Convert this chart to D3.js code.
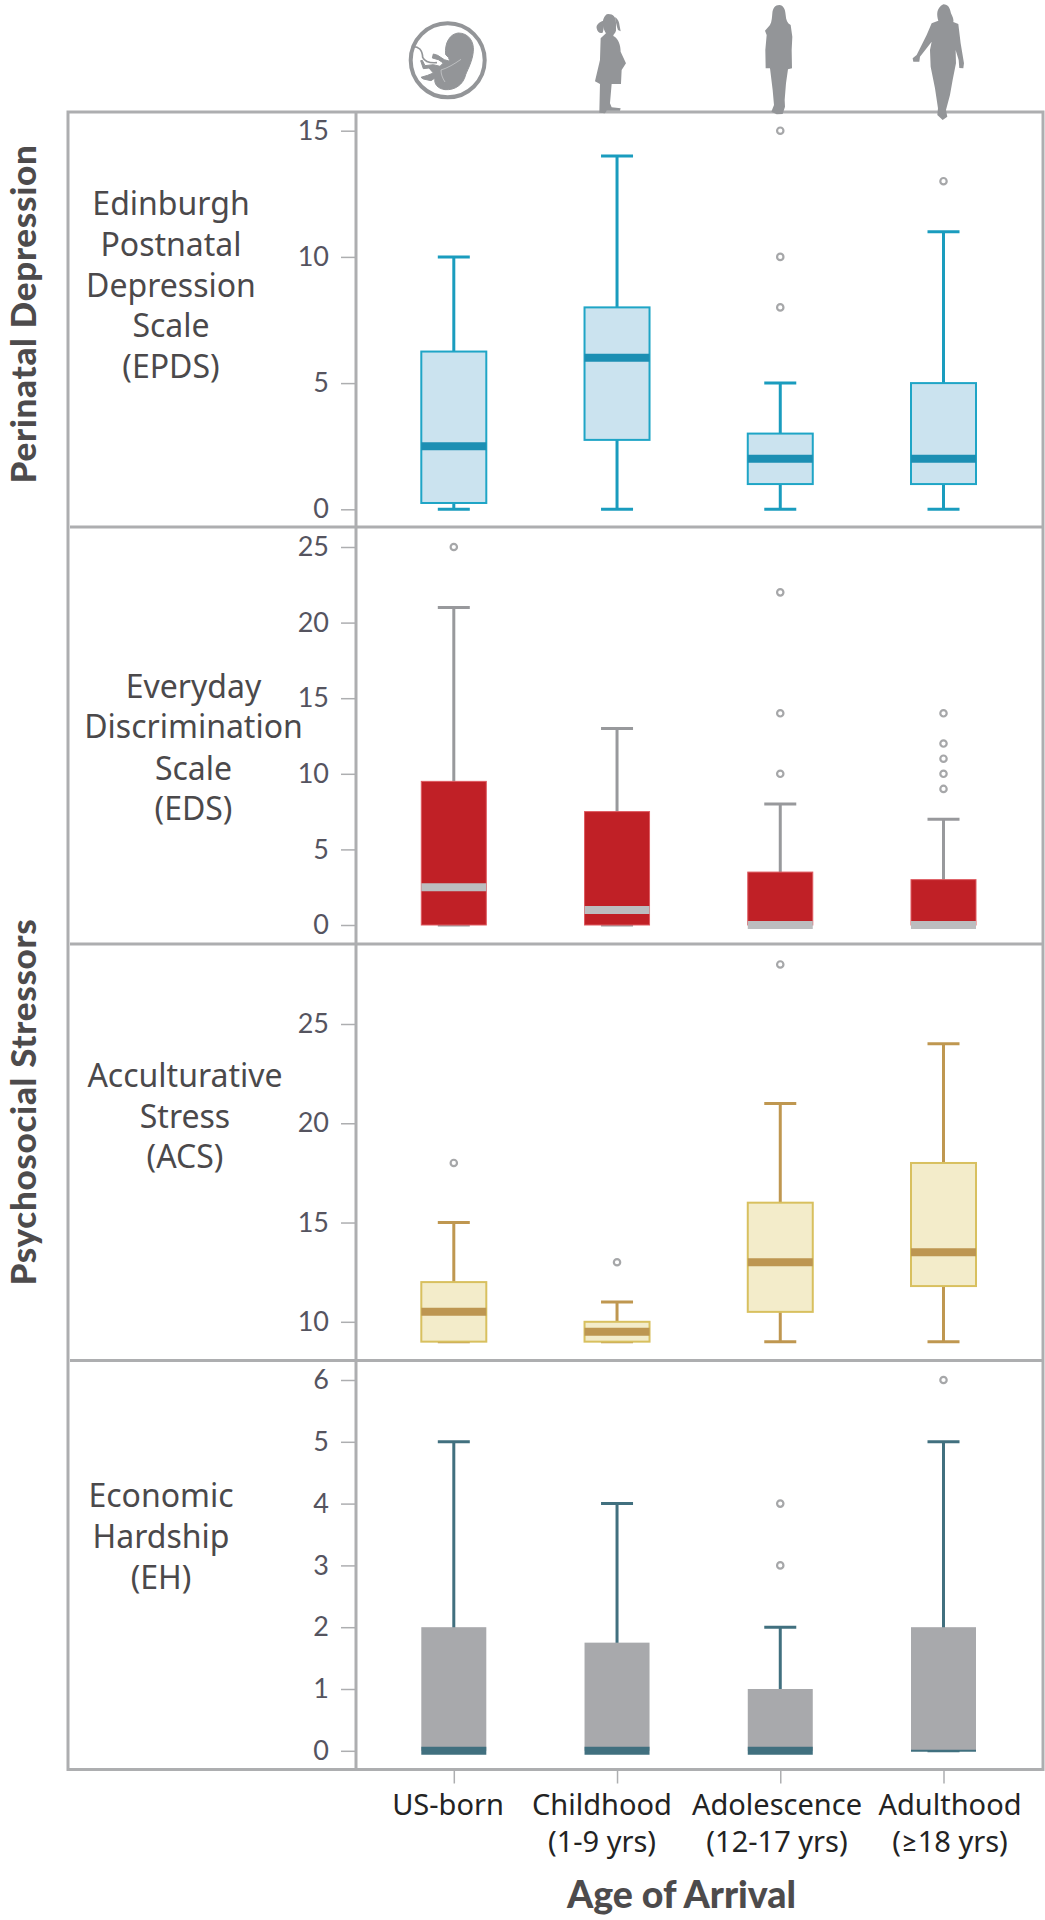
<!DOCTYPE html>
<html>
<head>
<meta charset="utf-8">
<script src="https://cdn.jsdelivr.net/npm/d3@7"></script>
<style>
html,body{margin:0;padding:0;background:#fff;}
svg{display:block;}
text{font-family:"Noto Sans",Lato,sans-serif;}
</style>
</head>
<body>
<div id="chart"></div>
<script>
// ---- data: each stats row is [low whisker, Q1, median, Q3, high whisker]
const categories = ["US-born", "Childhood", "Adolescence", "Adulthood"];
const categorySublabels = ["", "(1-9 yrs)", "(12-17 yrs)", "(≥18 yrs)"];

const epdsStats = [[0,0.25,2.5,6.25,10],[0,2.75,6,8,14],[0,1,2,3,5],[0,1,2,5,11]];
const epdsOutliers = [[],[],[8,10,15],[13]];
const epdsTicks = [0,5,10,15];

const edsStats = [[0,0,2.5,9.5,21],[0,0,1,7.5,13],[0,0,0,3.5,8],[0,0,0,3,7]];
const edsOutliers = [[25],[],[10,14,22],[9,10,11,12,14]];
const edsTicks = [0,5,10,15,20,25];

const acsStats = [[9,9,10.5,12,15],[9,9,9.5,10,11],[9,10.5,13,16,21],[9,11.8,13.5,18,24]];
const acsOutliers = [[18],[13],[28],[]];
const acsTicks = [10,15,20,25];

const ehStats = [[0,0,0,2,5],[0,0,0,1.75,4],[0,0,0,1,2],[0,0,0,2,5]];
const ehOutliers = [[],[],[3,4],[6]];
const ehTicks = [0,1,2,3,4,5,6];

// ---- layout
const W = 1045, H = 1920;
const frameL = 68, axisX = 356, frameR = 1043, frameT = 112, frameB = 1769.5;
const GRID = "#adaeb0", TICKTXT = "#55545f", LABEL = "#4b494b", HEAD = "#4d4b4c", ICON = "#939598";

const panels = [
  {stats:epdsStats, out:epdsOutliers, ticks:epdsTicks, dom:[0,15], rng:[509.3,130.7],
   fill:"#cbe3ef", edge:"#1fa5c6", edgeW:2, whisk:"#1a9cbe", med:"#1c8fb3", medW:[8,8,8,8],
   name:["Edinburgh","Postnatal","Depression","Scale","(EPDS)"], nameX:171, nameY:[215,256,297,337,378]},
  {stats:edsStats, out:edsOutliers, ticks:edsTicks, dom:[0,25], rng:[925,547],
   fill:"#c02026", edge:"#de5a60", edgeW:1, whisk:"#98999c", med:"#bcbdbf", medW:[8,8,8,8],
   name:["Everyday","Discrimination","Scale","(EDS)"], nameX:193.5, nameY:[698,738,780,820]},
  {stats:acsStats, out:acsOutliers, ticks:acsTicks, dom:[10,25], rng:[1321.8,1024],
   fill:"#f3ecca", edge:"#d8c05f", edgeW:2, whisk:"#bf9750", med:"#bd9651", medW:[8,8,8,8],
   name:["Acculturative","Stress","(ACS)"], nameX:185, nameY:[1087,1128,1168]},
  {stats:ehStats, out:ehOutliers, ticks:ehTicks, dom:[0,6], rng:[1750.8,1380],
   fill:"#a8a9ac", edge:"none", edgeW:0, whisk:"#41707f", med:"#41707f", medW:[8,8,8,2],
   name:["Economic","Hardship","(EH)"], nameX:161, nameY:[1507,1548,1589]}
];
const separators = [527, 944, 1360.5];

const svg = d3.select("#chart").append("svg").attr("width",W).attr("height",H);
const x = d3.scalePoint().domain(categories).range([453.8,943.5]);
const boxW = 65, capW = 32;

// ---- frame
svg.append("rect").attr("x",frameL).attr("y",frameT).attr("width",frameR-frameL).attr("height",frameB-frameT)
  .attr("fill","none").attr("stroke",GRID).attr("stroke-width",3);
svg.append("line").attr("x1",axisX).attr("x2",axisX).attr("y1",frameT).attr("y2",frameB)
  .attr("stroke",GRID).attr("stroke-width",3);
svg.selectAll("line.sep").data(separators).join("line").attr("class","sep")
  .attr("x1",frameL+2).attr("x2",frameR).attr("y1",d=>d).attr("y2",d=>d)
  .attr("stroke",GRID).attr("stroke-width",3);

// ---- panels
panels.forEach(p=>{
  const y = d3.scaleLinear().domain(p.dom).range(p.rng);
  const ax = svg.append("g").attr("transform",`translate(${axisX-1},0)`)
    .call(d3.axisLeft(y).tickValues(p.ticks).tickSize(14).tickPadding(12).tickFormat(d3.format("d")));
  ax.select(".domain").remove();
  ax.selectAll("line").attr("stroke",GRID).attr("stroke-width",1.5);
  ax.selectAll("text").attr("fill",TICKTXT).style("font-family","Lato").style("font-size","27px");

  const g = svg.selectAll(null).data(categories).join("g");
  g.each(function(c,i){
    const s = p.stats[i], cx = x(c), n = d3.select(this);
    n.append("line").attr("x1",cx).attr("x2",cx).attr("y1",y(s[0])).attr("y2",y(s[4]))
      .attr("stroke",p.whisk).attr("stroke-width",3);
    [s[0],s[4]].forEach(v=>n.append("line").attr("x1",cx-capW/2).attr("x2",cx+capW/2)
      .attr("y1",y(v)).attr("y2",y(v)).attr("stroke",p.whisk).attr("stroke-width",3));
    n.append("rect").attr("x",cx-boxW/2).attr("width",boxW).attr("y",y(s[3])).attr("height",y(s[1])-y(s[3]))
      .attr("fill",p.fill).attr("stroke",p.edge).attr("stroke-width",p.edgeW);
    n.append("line").attr("x1",cx-boxW/2).attr("x2",cx+boxW/2).attr("y1",y(s[2])).attr("y2",y(s[2]))
      .attr("stroke",p.med).attr("stroke-width",p.medW[i]);
    n.selectAll("circle").data(p.out[i]).join("circle")
      .attr("cx",cx).attr("cy",v=>y(v)).attr("r",3.2)
      .attr("fill","#fff").attr("stroke","#a6a7a9").attr("stroke-width",2.2);
  });

  svg.append("g").selectAll("text").data(p.name).join("text")
    .attr("x",p.nameX).attr("y",(d,i)=>p.nameY[i]).attr("text-anchor","middle")
    .attr("fill",LABEL).style("font-size","32px").text(d=>d);
});

// ---- x axis
const xAx = svg.append("g").attr("transform",`translate(0,${frameB+1})`)
  .call(d3.axisBottom(x).tickSize(13).tickFormat(""));
xAx.select(".domain").remove();
xAx.selectAll("line").attr("stroke",GRID).attr("stroke-width",1.5);
const labelX = [448,602,777,950];
svg.selectAll("text.cat").data(categories).join("text").attr("class","cat")
  .attr("x",(d,i)=>labelX[i]).attr("y",1815).attr("text-anchor","middle")
  .attr("fill","#232323").style("font-size","29px").text(d=>d);
svg.selectAll("text.sub").data(categorySublabels).join("text").attr("class","sub")
  .attr("x",(d,i)=>labelX[i]).attr("y",1852).attr("text-anchor","middle")
  .attr("fill","#232323").style("font-size","29px").text(d=>d);

// ---- headings
svg.append("text").attr("x",681.5).attr("y",1908).attr("text-anchor","middle")
  .attr("fill",HEAD).style("font-family","Lato").style("font-size","37.5px").style("font-weight",900).text("Age of Arrival");
[["Perinatal Depression",314],["Psychosocial Stressors",1102]].forEach(([t,cy])=>{
  svg.append("text").attr("transform",`translate(36,${cy}) rotate(-90)`).attr("text-anchor","middle")
    .attr("fill",HEAD).style("font-family","Lato").style("font-size","35px").style("letter-spacing","0.7px").style("font-weight",900).text(t);
});

// ---- age icons (traced in crop pixels, then scaled down)
const icons = svg.append("g").attr("fill",ICON);
icons.append("circle").attr("cx",447.7).attr("cy",60.3).attr("r",37)
  .attr("fill","none").attr("stroke",ICON).attr("stroke-width",4);
const gF = icons.append("g").attr("transform","translate(405,18) scale(0.3333)");
gF.append("path").attr("stroke",ICON).attr("stroke-width",3).attr("stroke-linejoin","round")
  .attr("d","M160,45 C190,45 208,70 205,100 C202,130 190,150 182,170 C175,200 150,217 120,215 C98,212 86,198 90,180 L78,188 L55,183 L48,178 L68,172 L85,165 L72,150 L55,152 L47,128 L52,127 L60,143 L85,140 L105,145 L115,135 L100,125 L82,120 L85,108 L98,112 L118,125 L135,130 L130,118 L122,110 C118,75 135,47 160,45 Z");
gF.append("path").attr("d","M20,86 C42,84 52,96 53,118 C60,132 72,136 96,134").attr("fill","none").attr("stroke",ICON).attr("stroke-width",5);
gF.append("path").attr("d","M108,156 C128,150 148,138 168,124 M108,156 C108,168 112,180 120,192").attr("fill","none").attr("stroke","#d9dadb").attr("stroke-width",1.8);
const g5 = icons.append("g").attr("transform","translate(400,10) scale(0.3333)");
// girl: body, then the two ponytail bunches
g5.append("path").attr("d","M625,12 C640,12 648,22 648,38 L648,62 C645,72 640,72 640,78 C655,85 662,105 662,125 L678,160 L665,180 L663,222 L635,222 L630,280 L635,292 L662,295 L660,302 L620,302 L615,310 L598,308 L600,222 L585,214 L600,150 L602,85 L618,70 C612,60 605,45 610,28 C614,18 618,12 625,12 Z");
g5.append("path").attr("d","M610,32 C598,36 588,44 590,55 C592,66 600,72 608,68 C612,58 612,44 610,32 Z");
g5.append("path").attr("d","M645,22 C654,26 658,38 659,48 L662,64 L654,60 C650,50 648,38 645,22 Z");
const g6 = icons.append("g").attr("transform","translate(750,0) scale(0.3333)");
g6.append("path").attr("d","M88,15 C100,15 106,28 107,45 C108,60 112,70 122,75 L127,110 L125,150 L126,205 L114,208 L108,250 L104,300 L105,320 L98,342 L80,343 L64,335 L72,315 L68,270 L60,205 L47,205 L46,150 L50,105 L45,92 L60,75 C66,65 66,50 67,40 C68,25 75,15 88,15 Z");
g6.append("path").attr("d","M580,13 C595,13 600,25 603,40 C608,50 612,60 610,66 L625,72 L632,130 L642,190 L640,205 L628,204 L626,180 L617,150 L618,190 L608,240 L600,285 L588,330 L592,350 L578,360 L562,345 L564,325 L555,265 L542,200 L540,150 L545,125 L510,170 L508,185 L490,185 L488,175 L500,165 L530,105 L545,70 L565,62 C560,45 558,25 580,13 Z");
</script>
</body>
</html>
